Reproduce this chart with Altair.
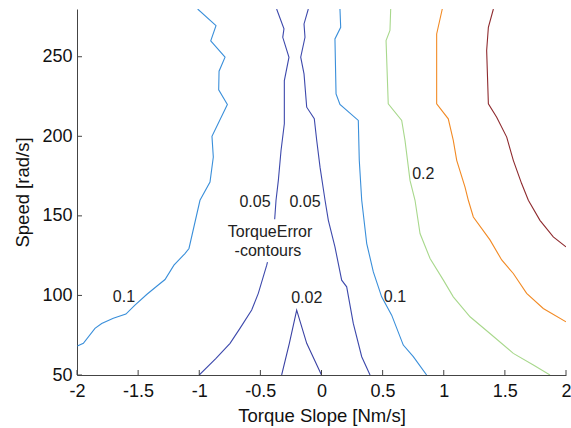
import altair as alt
import pandas as pd

# ---- contour data (Torque Slope x, Speed y) ----
c01L_x = [-1.013, -0.863, -0.906, -0.789, -0.838, -0.841, -0.770, -0.896, -0.885, -0.912, -0.994,
          -1.084, -1.117, -1.207, -1.280, -1.348, -1.430, -1.526, -1.600, -1.703, -1.798, -1.853, -1.948, -1.997]
c01L_y = [280, 269.5, 260, 249.7, 240.9, 229.2, 220, 200, 187, 171.3, 159.8,
          129.5, 126.3, 119, 110, 105.8, 100.6, 93.9, 88.3, 85.6, 82.4, 79.3, 69.9, 68.2]

c005La_x = [-0.367, -0.307, -0.317, -0.266, -0.304, -0.304, -0.331, -0.353, -0.372, -0.383]
c005La_y = [280, 267.5, 262.2, 249.7, 235, 207.9, 191.1, 172.3, 159.8, 147.9]
c005Lb_x = [-0.442, -0.448, -0.517, -0.571, -0.667, -0.748, -0.863, -1.0]
c005Lb_y = [120.9, 119, 101.3, 90.8, 79.3, 69.9, 60.5, 50]

c002_x = [-0.326, -0.263, -0.203, -0.121, 0.0]
c002_y = [50, 69.9, 90.8, 69.9, 50]

c005R_x = [-0.108, -0.143, -0.135, -0.170, -0.143, -0.121, -0.059, -0.039, -0.012, 0.029, 0.056,
           0.110, 0.165, 0.206, 0.260, 0.329, 0.397]
c005R_y = [280, 270.6, 262.2, 249.7, 239.2, 218.3, 211, 197.4, 180.6, 159.8, 147.2,
           130.5, 109.6, 105.4, 82.4, 61.5, 50]

c01R_x = [0.151, 0.157, 0.110, 0.119, 0.151, 0.301, 0.309, 0.329, 0.370, 0.424, 0.492,
          0.574, 0.669, 0.751, 0.860]
c01R_y = [280, 268.5, 261.2, 226.7, 220, 210, 184.9, 159.8, 132.6, 114.8, 99.1,
          87.6, 68.8, 61.5, 50]

c02_x = [0.566, 0.560, 0.528, 0.546, 0.656, 0.683, 0.724, 0.765, 0.806, 0.888, 0.997,
         1.078, 1.215, 1.378, 1.569, 1.733, 1.869]
c02_y = [280, 266.5, 260.2, 220.4, 210, 197.4, 172.3, 159.8, 138.9, 123.2, 109.6,
         99.1, 86.6, 76.1, 63.6, 56.3, 50]

c03_x = [0.988, 0.942, 0.942, 1.037, 1.078, 1.106, 1.174, 1.201, 1.242, 1.378, 1.474,
         1.569, 1.678, 1.814, 2.0]
c03_y = [280, 264.3, 220.4, 211, 197.4, 184.9, 168.1, 159.8, 149.3, 134.9, 122.3,
         113.8, 101.3, 91.8, 83.4]

c04_x = [1.406, 1.365, 1.351, 1.365, 1.433, 1.515, 1.569, 1.637, 1.692, 1.787, 1.896, 2.0]
c04_y = [280, 268.5, 253.9, 220.4, 212, 199.5, 184.9, 170.3, 159.8, 147.2, 136.8, 130.5]

segments = [
    ("c01L", c01L_x, c01L_y, "#3A8FDA"),
    ("c005La", c005La_x, c005La_y, "#3D49AC"),
    ("c005Lb", c005Lb_x, c005Lb_y, "#3D49AC"),
    ("c002", c002_x, c002_y, "#3A42A4"),
    ("c005R", c005R_x, c005R_y, "#3D49AC"),
    ("c01R", c01R_x, c01R_y, "#3A8FDA"),
    ("c02", c02_x, c02_y, "#A8D88C"),
    ("c03", c03_x, c03_y, "#F28A24"),
    ("c04", c04_x, c04_y, "#8E2A2E"),
]

rows = []
for name, xs, ys, col in segments:
    for i, (xv, yv) in enumerate(zip(xs, ys)):
        rows.append({"seg": name, "order": i, "x": xv, "y": yv, "color": col})
lines_df = pd.DataFrame(rows)

# contour labels
label_text = ["0.05", "0.05", "TorqueError", "-contours", "0.02", "0.1", "0.1", "0.2"]
label_x = [-0.544, -0.135, -0.421, -0.438, -0.121, -1.616, 0.601, 0.833]
label_y = [158.5, 158.5, 139.7, 127.8, 98.1, 99.1, 99.1, 176.5]
labels_df = pd.DataFrame({"t": label_text, "x": label_x, "y": label_y})

x_ticks = [-2, -1.5, -1, -0.5, 0, 0.5, 1, 1.5, 2]
y_ticks = [50, 100, 150, 200, 250]

W, H = 489, 366
FONT = "Liberation Sans"

xscale = alt.Scale(domain=[-2, 2], nice=False, zero=False)
yscale = alt.Scale(domain=[50, 280], nice=False, zero=False)

xaxis = alt.Axis(values=x_ticks, title="Torque Slope [Nm/s]", grid=False, ticks=False,
                 labelPadding=7, titlePadding=6, labelFontSize=18, titleFontSize=18.5,
                 labelFont=FONT, titleFont=FONT, titleFontWeight="normal",
                 labelColor="#111", titleColor="#111", domainColor="#444",
                 labelFlush=False, labelExpr="datum.value")
yaxis = alt.Axis(values=y_ticks, title="Speed [rad/s]", grid=False, ticks=False,
                 labelPadding=5, titlePadding=9, labelFontSize=18, titleFontSize=18.5,
                 labelFont=FONT, titleFont=FONT, titleFontWeight="normal",
                 labelColor="#111", titleColor="#111", domainColor="#444",
                 labelFlush=False)

lines = alt.Chart(lines_df).mark_line(strokeWidth=1.1, clip=True).encode(
    x=alt.X("x:Q", scale=xscale, axis=xaxis),
    y=alt.Y("y:Q", scale=yscale, axis=yaxis),
    detail="seg:N",
    order="order:Q",
    color=alt.Color("color:N", scale=None),
)

xt = alt.Chart(pd.DataFrame({"v": x_ticks})).mark_rule(color="#444", strokeWidth=1).encode(
    x=alt.X("v:Q", scale=xscale),
    y=alt.value(H), y2=alt.value(H - 5),
)
yt = alt.Chart(pd.DataFrame({"v": y_ticks})).mark_rule(color="#444", strokeWidth=1).encode(
    y=alt.Y("v:Q", scale=yscale),
    x=alt.value(0), x2=alt.value(5),
)

texts = alt.Chart(labels_df).mark_text(font=FONT, fontSize=16, color="#222",
                                       align="center", baseline="middle").encode(
    x=alt.X("x:Q", scale=xscale),
    y=alt.Y("y:Q", scale=yscale),
    text="t:N",
)

chart = alt.layer(lines, xt, yt, texts).properties(
    width=W, height=H,
    autosize=alt.AutoSizeParams(type="none"),
    padding={"left": 77, "top": 9, "right": 5, "bottom": 53},
    background="white",
).configure_view(stroke=None)

chart.save("out.html", embed_options={"renderer": "svg", "actions": False})
